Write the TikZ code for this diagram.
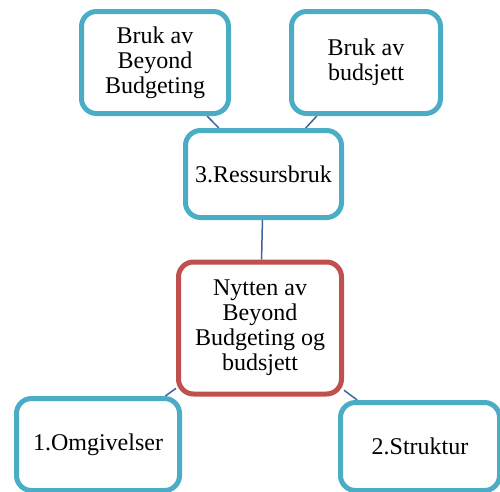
\documentclass[tikz,border=0pt]{standalone}
\usepackage{fontspec}
\setmainfont{Liberation Serif}
\usepackage{tikz}
\usetikzlibrary{
  backgrounds,
  positioning,
}
\definecolor{boxblue}{RGB}{75,172,198}
\definecolor{boxred}{RGB}{192,80,77}
\definecolor{linkblue}{RGB}{62,100,160}
\tikzstyle{box} = [
  rectangle,
  rounded corners=15pt,
  draw=boxblue,
  line width=5pt,
  fill=white,
  align=center,
  inner sep=2pt,
  font=\fontsize{24}{25}\selectfont,
]
\tikzstyle{link} = [
  linkblue,
  line width=1.5pt,
]

\begin{document}
\begin{tikzpicture}[x=1pt,y=-1pt]
      \useasboundingbox (0,0) rectangle (500,491);

      \node[box,minimum width=147,minimum height=102] (bruk1)    at (155,62.5)  {Bruk av\\Beyond\\Budgeting};
      \node[box,minimum width=149,minimum height=102] (bruk2)    at (366,62.5)  {Bruk av\\budsjett};
      \node[box,minimum width=156,minimum height=87]  (ressurs)  at (263.5,174) {3.Ressursbruk};

      \node[box,draw=boxred,minimum width=163,minimum height=132] (nytten) at (260,328) {Nytten av\\Beyond\\Budgeting og\\budsjett};

      \node[box,minimum width=163,minimum height=92]  (omgiv)    at (98,444.5)  {1.Omgivelser};
      \node[box,minimum width=159,minimum height=88]  (struktur) at (420,446.5) {2.Struktur};

      \begin{scope}[on background layer]
        \draw[link] (bruk1) -- (ressurs);
        \draw[link] (bruk2) -- (ressurs);
        \draw[link] (ressurs) -- (nytten);
        \draw[link] (nytten) -- (omgiv);
        \draw[link] (nytten) -- (struktur);
      \end{scope}

\end{tikzpicture}
\end{document}
